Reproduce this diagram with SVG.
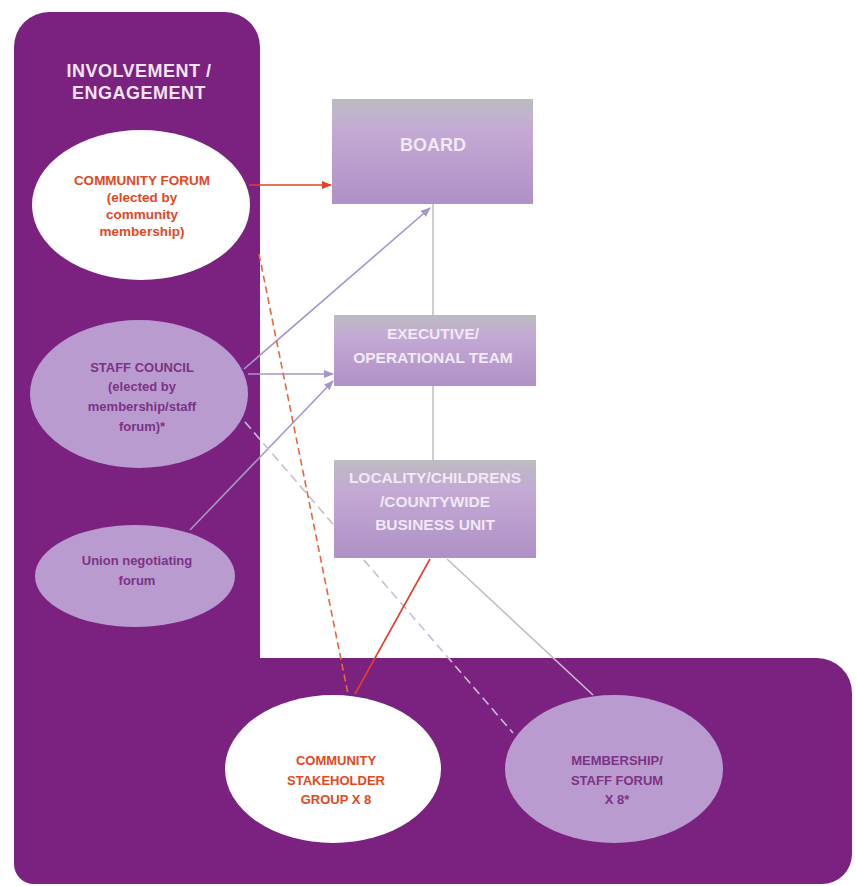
<svg xmlns="http://www.w3.org/2000/svg" width="856" height="886" viewBox="0 0 856 886">
<defs>
<linearGradient id="boxgrad" x1="0" y1="0" x2="0" y2="1">
<stop offset="0" stop-color="#bdbbc1"/>
<stop offset="0.3" stop-color="#c3aad4"/>
<stop offset="1" stop-color="#b090c6"/>
</linearGradient>
<marker id="arrRed" markerWidth="10" markerHeight="8" refX="9" refY="4" orient="auto" markerUnits="userSpaceOnUse">
<path d="M0,0 L10,4 L0,8 Z" fill="#e0402a"/>
</marker>
<marker id="arrPur" markerWidth="10" markerHeight="8" refX="9" refY="4" orient="auto" markerUnits="userSpaceOnUse">
<path d="M0,0 L10,4 L0,8 Z" fill="#a596c8"/>
</marker>
</defs>
<style>
.bg{fill:#7b2280}
.hdr{font-family:"Liberation Sans",Arial,sans-serif;font-weight:bold;font-size:18px;letter-spacing:0.5px;fill:#f3e4f3;text-anchor:middle}
.white{fill:#ffffff}
.lite{fill:#b99bcf}
.box{fill:url(#boxgrad)}
.red{font-family:"Liberation Sans",Arial,sans-serif;font-weight:bold;font-size:13.5px;fill:#e2481f;text-anchor:middle}
.dark{font-family:"Liberation Sans",Arial,sans-serif;font-weight:bold;font-size:13px;fill:#7c3385;text-anchor:middle}
.bx{font-family:"Liberation Sans",Arial,sans-serif;font-weight:bold;font-size:15.5px;fill:#f2e8f6;text-anchor:middle}
.c{fill:none;stroke-width:1.6}
</style>
<path class="bg" d="M14,47 A35,35 0 0 1 49,12 L225,12 A35,35 0 0 1 260,47 L260,658 L817,658 A35,35 0 0 1 852,693 L852,854 A30,30 0 0 1 822,884 L34,884 A20,20 0 0 1 14,864 Z"/>
<text class="hdr" x="139" y="77">INVOLVEMENT /</text>
<text class="hdr" x="139" y="99">ENGAGEMENT</text>

<g id="connectors">
<line class="c" x1="433" y1="204" x2="433" y2="315" stroke="#c4c0c8"/>
<line class="c" x1="433" y1="386" x2="433" y2="460" stroke="#c4c0c8"/>
<line class="c" x1="249" y1="185" x2="331" y2="185" stroke="#e0402a" marker-end="url(#arrRed)"/>
<line class="c" x1="244" y1="369" x2="430" y2="208" stroke="#a596c8" marker-end="url(#arrPur)"/>
<line class="c" x1="248" y1="374" x2="333" y2="374" stroke="#a596c8" marker-end="url(#arrPur)"/>
<line class="c" x1="190" y1="530" x2="333" y2="381" stroke="#a596c8" marker-end="url(#arrPur)"/>
<line class="c" x1="245" y1="422" x2="513" y2="733" stroke="#c8bcd6" stroke-dasharray="9,5"/>
<line class="c" x1="259" y1="254" x2="348" y2="694" stroke="#e8663a" stroke-dasharray="7,4"/>
<line class="c" x1="430" y1="559" x2="355" y2="694" stroke="#e0402a"/>
<line class="c" x1="447" y1="559" x2="593" y2="695" stroke="#c4bcc8"/>
</g>

<g id="community-forum">
<ellipse class="white" cx="141" cy="205" rx="109" ry="75"/>
<text class="red" x="142" y="185">COMMUNITY FORUM</text>
<text class="red" x="142" y="202">(elected by</text>
<text class="red" x="142" y="219">community</text>
<text class="red" x="142" y="236">membership)</text>
</g>

<g id="staff-council">
<ellipse class="lite" cx="139" cy="394" rx="109" ry="74"/>
<text class="dark" x="142" y="372">STAFF COUNCIL</text>
<text class="dark" x="142" y="391">(elected by</text>
<text class="dark" x="142" y="411">membership/staff</text>
<text class="dark" x="142" y="431">forum)*</text>
</g>

<g id="union-forum">
<ellipse class="lite" cx="135" cy="576" rx="100" ry="51"/>
<text class="dark" x="137" y="565">Union negotiating</text>
<text class="dark" x="137" y="585">forum</text>
</g>

<g id="board">
<rect class="box" x="332" y="99" width="201" height="105"/>
<text class="bx" x="433" y="151" style="font-size:18px">BOARD</text>
</g>

<g id="executive">
<rect class="box" x="334" y="315" width="202" height="71"/>
<text class="bx" x="433" y="339">EXECUTIVE/</text>
<text class="bx" x="433" y="363">OPERATIONAL TEAM</text>
</g>

<g id="locality">
<rect class="box" x="334" y="460" width="202" height="98"/>
<text class="bx" x="435" y="483">LOCALITY/CHILDRENS</text>
<text class="bx" x="435" y="507">/COUNTYWIDE</text>
<text class="bx" x="435" y="530">BUSINESS UNIT</text>
</g>

<g id="community-stakeholder">
<ellipse class="white" cx="333" cy="769" rx="108" ry="74"/>
<text class="red" x="336" y="765" style="font-size:13px">COMMUNITY</text>
<text class="red" x="336" y="785" style="font-size:13px">STAKEHOLDER</text>
<text class="red" x="336" y="804" style="font-size:13px">GROUP X 8</text>
</g>

<g id="membership-forum">
<ellipse class="lite" cx="614" cy="769" rx="109" ry="74"/>
<text class="dark" x="617" y="765">MEMBERSHIP/</text>
<text class="dark" x="617" y="785">STAFF FORUM</text>
<text class="dark" x="617" y="804">X 8*</text>
</g>
</svg>
